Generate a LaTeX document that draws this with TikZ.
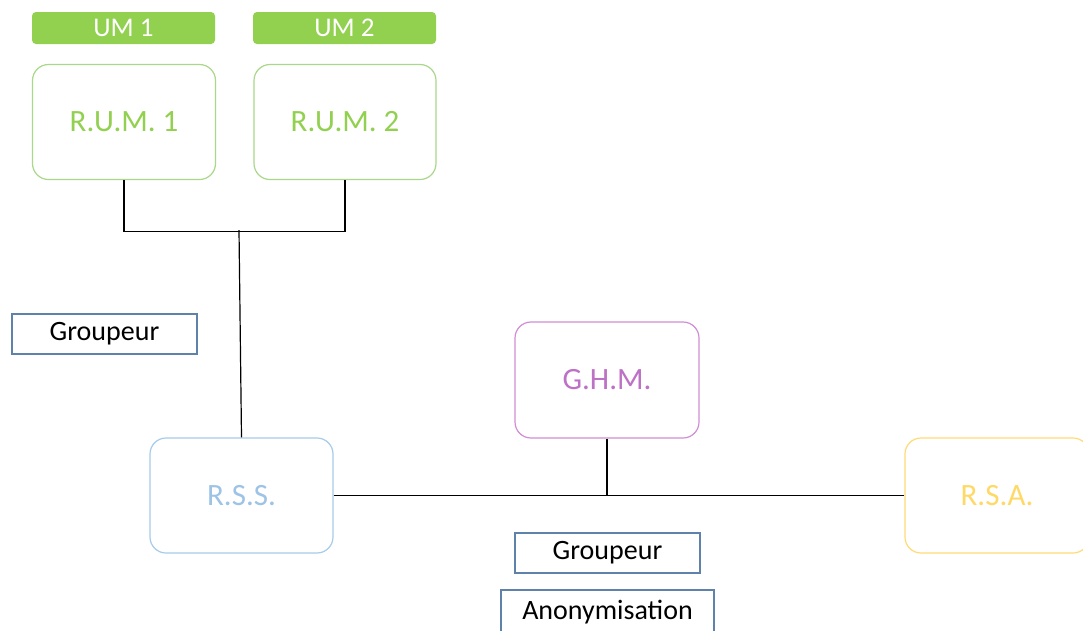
\documentclass[tikz,border=0pt]{standalone}
\usepackage{fontspec}
\setmainfont{Carlito}
\definecolor{umfill}{HTML}{92D050}
\definecolor{rumline}{HTML}{A9D88A}
\definecolor{rumtext}{HTML}{92D050}
\definecolor{rssline}{HTML}{A8CBEA}
\definecolor{rsstext}{HTML}{9DC3E6}
\definecolor{ghmline}{HTML}{D08ED6}
\definecolor{ghmtext}{HTML}{BE72C6}
\definecolor{rsaline}{HTML}{FFDC78}
\definecolor{rsatext}{HTML}{FFD966}
\definecolor{tagline}{HTML}{5E82AA}
\tikzset{
  umbar/.style={fill=umfill, draw=none, rounded corners=4pt, text=white,
    minimum width=183pt, minimum height=32pt, inner sep=0pt,
    font=\fontsize{27}{29}\selectfont},
  record/.style={rounded corners=16pt, line width=1.2pt, fill=white,
    minimum width=183pt, minimum height=115pt, inner sep=0pt,
    font=\fontsize{31}{33}\selectfont},
  tag/.style={draw=tagline, line width=1.2pt, text=black,
    minimum width=185pt, minimum height=40pt, inner sep=0pt,
    font=\fontsize{28}{30}\selectfont},
  link/.style={draw=black, line width=1.2pt}
}
\begin{document}
\begin{tikzpicture}[x=1pt, y=-1pt]
\clip (0,0) rectangle (1083,630);
\fill[white] (0,0) rectangle (1083,630);

% unit labels
\node[umbar] (um1) at (123.5,28) {UM 1};
\node[umbar] (um2) at (344.5,28) {UM 2};

% unit summaries
\node[record, draw=rumline, text=rumtext] (rum1) at (124,122) {R.U.M. 1};
\node[record, draw=rumline, text=rumtext, minimum width=182pt] (rum2) at (345,122) {R.U.M. 2};

% grouped and anonymised summaries
\node[record, draw=rssline, text=rsstext] (rss) at (241.5,495.5) {R.S.S.};
\node[record, draw=ghmline, text=ghmtext, minimum width=184pt, minimum height=116pt] (ghm) at (607,380) {G.H.M.};
\node[record, draw=rsaline, text=rsatext, minimum width=184pt] (rsa) at (997,495.5) {R.S.A.};

% processing steps
\node[tag] (grp1) at (104.5,334) {Groupeur};
\node[tag] (grp2) at (607.5,553) {Groupeur};
\node[tag, minimum width=213pt, minimum height=44pt] (anon) at (607.5,612) {\raisebox{2pt}{Anonymisation}};

% connectors
\coordinate (j1) at (239,230);
\draw[link] (rum1.south) -- ++(0,51) -| (rum2.south);
\draw[link] (j1) -- (rss.north);
\draw[link] (rss.east) -- (rsa.west);
\draw[link] (ghm.south) -- (ghm.south |- rss.east);
\end{tikzpicture}
\end{document}
